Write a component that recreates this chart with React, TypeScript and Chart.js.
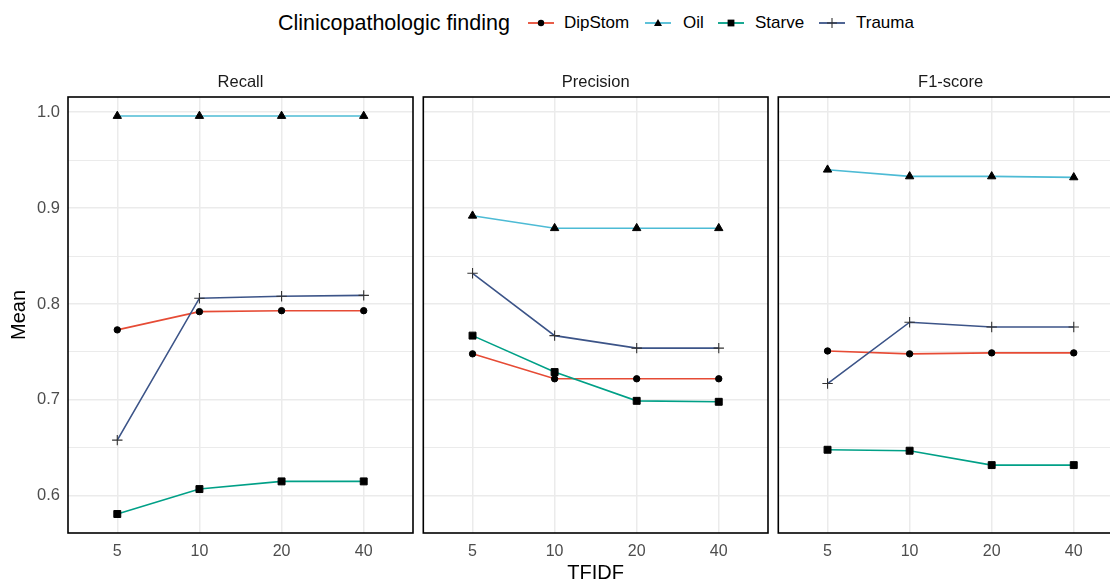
import React, { useEffect, useRef } from 'react';
import { Chart, registerables } from 'chart.js';

Chart.register(...registerables);

// ---------- data ----------
const tfidfLabels = ['5', '10', '20', '40'];
const tfidfIndex = [0, 1, 2, 3];
const panelTitles = ['Recall', 'Precision', 'F1-score'];
const seriesNames = ['DipStom', 'Oil', 'Starve', 'Trauma'];
const seriesColors = ['#E64B35', '#4DBBD5', '#00A087', '#3C5488'];

const recallDipStom = [0.773, 0.792, 0.793, 0.793];
const recallOil = [0.996, 0.996, 0.996, 0.996];
const recallStarve = [0.581, 0.607, 0.615, 0.615];
const recallTrauma = [0.658, 0.806, 0.808, 0.809];

const precisionDipStom = [0.748, 0.722, 0.722, 0.722];
const precisionOil = [0.892, 0.879, 0.879, 0.879];
const precisionStarve = [0.767, 0.729, 0.699, 0.698];
const precisionTrauma = [0.832, 0.767, 0.754, 0.754];

const f1DipStom = [0.751, 0.748, 0.749, 0.749];
const f1Oil = [0.940, 0.933, 0.933, 0.932];
const f1Starve = [0.648, 0.647, 0.632, 0.632];
const f1Trauma = [0.717, 0.781, 0.776, 0.776];

const yMajorTicks = [0.6, 0.7, 0.8, 0.9, 1.0];
const yMinorTicks = [0.65, 0.75, 0.85, 0.95];
const yMin = 0.5612;
const yMax = 1.0158;

const panelValues = [
  [recallDipStom, recallOil, recallStarve, recallTrauma],
  [precisionDipStom, precisionOil, precisionStarve, precisionTrauma],
  [f1DipStom, f1Oil, f1Starve, f1Trauma],
];

// ---------- styles ----------
const FONT = '"Liberation Sans", Arial, Helvetica, sans-serif';
const pointStyles: any[] = ['circle', 'triangle', 'rect', 'cross'];
const pointRadii = [3.2, 4.8, 4.9, 5.2];

const panelBorderPlugin = {
  id: 'panelBorder',
  afterDatasetsDraw(chart: any) {
    const { ctx, chartArea } = chart;
    ctx.save();
    ctx.strokeStyle = '#000';
    ctx.lineWidth = 1.6;
    ctx.strokeRect(chartArea.left, chartArea.top, chartArea.right - chartArea.left, chartArea.bottom - chartArea.top);
    ctx.restore();
  },
};

const stripTitlePlugin = {
  id: 'stripTitle',
  afterDraw(chart: any, _args: any, opts: any) {
    const { ctx, chartArea } = chart;
    ctx.save();
    ctx.font = `16.5px ${FONT}`;
    ctx.fillStyle = '#1A1A1A';
    ctx.textAlign = 'center';
    ctx.textBaseline = 'middle';
    ctx.fillText(opts.text, (chartArea.left + chartArea.right) / 2, chartArea.top - 15);
    ctx.restore();
  },
};

interface PanelProps {
  index: number;
  left: number;
  width: number;
  yWidth: number;
  showY: boolean;
  showX: boolean;
}

function Panel({ index, left, width, yWidth, showY, showX }: PanelProps) {
  const ref = useRef<HTMLCanvasElement | null>(null);
  useEffect(() => {
    if (!ref.current) return;
    const values = panelValues[index];
    const datasets = seriesNames.map((name, s) => ({
      label: name,
      data: tfidfIndex.map((x, i) => ({ x, y: values[s][i] })),
      borderColor: seriesColors[s],
      backgroundColor: seriesColors[s],
      borderWidth: 1.6,
      pointStyle: pointStyles[s],
      pointRadius: pointRadii[s],
      pointHoverRadius: pointRadii[s],
      pointBackgroundColor: s === 3 ? 'rgba(0,0,0,0)' : '#000',
      pointBorderColor: s === 3 ? '#333' : '#000',
      pointBorderWidth: s === 3 ? 1.1 : 1,
      tension: 0,
      fill: false,
      order: 3 - s,
    }));
    const allYTicks = [...yMajorTicks, ...yMinorTicks].sort((a, b) => a - b);
    const chart = new Chart(ref.current, {
      type: 'line',
      data: { datasets },
      plugins: [panelBorderPlugin, stripTitlePlugin],
      options: {
        animation: false,
        responsive: false,
        devicePixelRatio: 1,
        layout: { padding: { left: 0, right: 7, top: 37, bottom: 0 } },
        plugins: {
          legend: { display: false },
          tooltip: { enabled: false },
          title: { display: false },
          stripTitle: { text: panelTitles[index] },
        } as any,
        scales: {
          x: {
            type: 'linear',
            min: -0.6,
            max: 3.6,
            afterBuildTicks: (a: any) => {
              a.ticks = tfidfIndex.map((v) => ({ value: v }));
            },
            afterFit: (a: any) => {
              a.height = 48;
            },
            ticks: {
              callback: (v: any) => tfidfLabels[v] ?? '',
              font: { family: FONT, size: 16 },
              color: '#4D4D4D',
              padding: 9,
              maxRotation: 0,
              autoSkip: false,
            },
            grid: { color: '#EBEBEB', lineWidth: 1.5, drawTicks: false },
            border: { display: false },
            title: {
              display: showX,
              text: 'TFIDF',
              color: '#000',
              font: { family: FONT, size: 20, lineHeight: 1 },
              padding: { top: 0, bottom: -2 },
            },
          },
          y: {
            type: 'linear',
            min: yMin,
            max: yMax,
            afterBuildTicks: (a: any) => {
              a.ticks = allYTicks.map((v) => ({ value: v }));
            },
            afterFit: (a: any) => {
              a.width = yWidth;
            },
            ticks: {
              display: showY,
              callback: (v: any) => (yMajorTicks.includes(v) ? Number(v).toFixed(1) : ''),
              font: { family: FONT, size: 16.5 },
              color: '#4D4D4D',
              padding: 8,
            },
            grid: {
              color: '#EBEBEB',
              lineWidth: (c: any) => (c.tick && yMajorTicks.includes(c.tick.value) ? 1.5 : 1),
              drawTicks: false,
            },
            border: { display: false },
            title: {
              display: showY,
              text: 'Mean',
              color: '#000',
              font: { family: FONT, size: 20 },
              padding: { top: 7, bottom: 0 },
            },
          },
        },
      } as any,
    });
    return () => chart.destroy();
  }, [index, yWidth, showY, showX]);
  return (
    <canvas
      ref={ref}
      width={width}
      height={521}
      style={{ position: 'absolute', left, top: 60, width, height: 521 }}
    />
  );
}

function LegendGlyph({ s }: { s: number }) {
  const c = seriesColors[s];
  let marker: React.ReactNode = null;
  if (s === 0) marker = <circle cx={13} cy={12} r={3.2} fill="#000" />;
  if (s === 1) marker = <polygon points="13,8 17,15 9,15" fill="#000" />;
  if (s === 2) marker = <rect x={9.6} y={8.6} width={6.8} height={6.8} fill="#000" />;
  if (s === 3)
    marker = (
      <g stroke="#333" strokeWidth={1.1}>
        <line x1={8} y1={12} x2={18} y2={12} />
        <line x1={13} y1={7} x2={13} y2={17} />
      </g>
    );
  return (
    <svg width={26} height={24} style={{ display: 'block' }}>
      <line x1={0} y1={12} x2={26} y2={12} stroke={c} strokeWidth={1.8} />
      {marker}
    </svg>
  );
}

const legendGlyphX = [528, 645, 718, 819];
const legendLabelX = [564, 683, 755, 856];

export default function App() {
  return (
    <div
      style={{
        position: 'absolute',
        left: 0,
        top: 0,
        width: 1110,
        height: 581,
        overflow: 'hidden',
        background: '#fff',
        fontFamily: FONT,
      }}
    >
      <div
        style={{
          position: 'absolute',
          left: 278,
          top: 11,
          fontSize: 21.5,
          lineHeight: '24px',
          color: '#000',
          whiteSpace: 'nowrap',
        }}
      >
        Clinicopathologic finding
      </div>
      {seriesNames.map((n, s) => (
        <React.Fragment key={n}>
          <div style={{ position: 'absolute', left: legendGlyphX[s], top: 11 }}>
            <LegendGlyph s={s} />
          </div>
          <div
            style={{
              position: 'absolute',
              left: legendLabelX[s],
              top: 11,
              fontSize: 17,
              lineHeight: '24px',
              color: '#000',
              whiteSpace: 'nowrap',
            }}
          >
            {n}
          </div>
        </React.Fragment>
      ))}
      <Panel index={0} left={0} width={420} yWidth={68} showY={true} showX={false} />
      <Panel index={1} left={417} width={358} yWidth={3} showY={false} showX={true} />
      <Panel index={2} left={772} width={358} yWidth={3} showY={false} showX={false} />
    </div>
  );
}
